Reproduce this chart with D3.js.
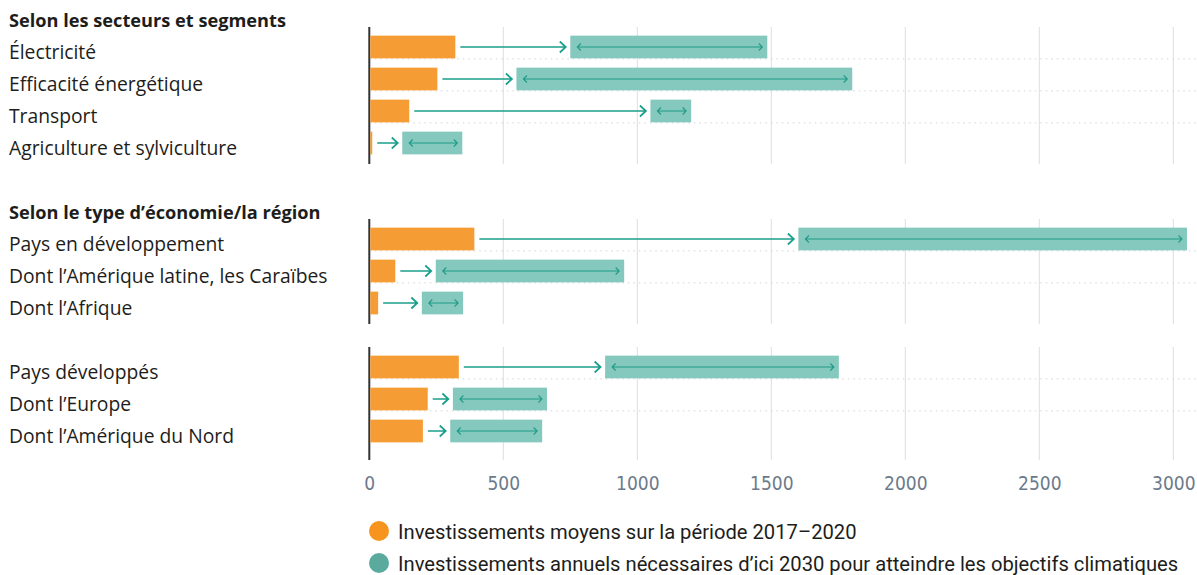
<!DOCTYPE html>
<html>
<head>
<meta charset="utf-8">
<script src="https://cdn.jsdelivr.net/npm/d3@7"></script>
<style>
  body { margin: 0; background: #fff; }
  svg { display: block; }
  .label { font-family: "Open Sans", "Noto Sans", sans-serif; font-size: 19.3px; fill: #1d1d1b; }
  .title { font-weight: 700; font-size: 18.2px; }
  .tick text { font-family: "DejaVu Sans Condensed", "DejaVu Sans", sans-serif; font-stretch: condensed; font-size: 19px; fill: #6c7a8b; }
  .legend { font-family: Roboto, "Noto Sans", sans-serif; font-size: 20.2px; fill: #1d1d1b; }
</style>
</head>
<body>
<svg id="chart" width="1197" height="575"></svg>
<script>
// rows, top to bottom
const categories = [
  "Électricité", "Efficacité énergétique", "Transport", "Agriculture et sylviculture",
  "Pays en développement", "Dont l’Amérique latine, les Caraïbes", "Dont l’Afrique",
  "Pays développés", "Dont l’Europe", "Dont l’Amérique du Nord"
];
const groupOf = [0, 0, 0, 0, 1, 1, 1, 2, 2, 2];
const groupTitles = ["Selon les secteurs et segments", "Selon le type d’économie/la région", ""];

// investissements moyens 2017-2020
const current = [321, 254, 149, 11, 392, 97, 33, 334, 218, 200];
// besoins annuels d'ici 2030 (fourchette basse / haute)
const needLow = [750, 549, 1049, 123, 1601, 248, 196, 880, 312, 302];
const needHigh = [1485, 1802, 1201, 347, 3051, 951, 350, 1752, 663, 645];

const ticks = [0, 500, 1000, 1500, 2000, 2500, 3000];
const legendLabels = [
  "Investissements moyens sur la période 2017–2020",
  "Investissements annuels nécessaires d’ici 2030 pour atteindre les objectifs climatiques"
];

const orange = "#f69c34", teal = "#84c8be", arrowCol = "#1b9e8b";

const svg = d3.select("#chart");

// build the row slots: title slot per group, one blank spacer before titled groups (except first)
const slots = [];
groupTitles.forEach((t, g) => {
  if (g > 0 && t) slots.push("spacer-" + g);
  slots.push("title-" + g);
  categories.forEach((c, i) => { if (groupOf[i] === g) slots.push("row-" + i); });
});

const y = d3.scaleBand().domain(slots).range([-1, slots.length * 32 - 1]).paddingInner(0.29).paddingOuter(0.145);
const x = d3.scaleLinear().domain([0, 3000]).range([369.3, 1173.3]);
const step = y.step();
const bandTop = key => y(key) - (step - y.bandwidth()) / 2;
const rowMid = i => y("row-" + i) + y.bandwidth() / 2;

// per-group frame: gridlines + axis line
groupTitles.forEach((t, g) => {
  const rows = d3.range(categories.length).filter(i => groupOf[i] === g);
  const top = bandTop("row-" + rows[0]) - 4;
  const bottom = bandTop("row-" + rows[rows.length - 1]) + step + (g === groupTitles.length - 1 ? 13 : 5);
  svg.append("g").selectAll("line").data(ticks.slice(1)).join("line")
    .attr("x1", d => x(d)).attr("x2", d => x(d))
    .attr("y1", top).attr("y2", bottom)
    .attr("stroke", "#dedede").attr("stroke-width", 1);
  // dotted separators under each row but the last
  svg.append("g").selectAll("line").data(rows.slice(0, -1)).join("line")
    .attr("x1", x(0)).attr("x2", 1197)
    .attr("y1", i => y("row-" + i) + y.bandwidth() + 0.5)
    .attr("y2", i => y("row-" + i) + y.bandwidth() + 0.5)
    .attr("stroke", "#dcdcdc").attr("stroke-width", 1.2).attr("stroke-dasharray", "1.5 4");
  svg.append("line")
    .attr("x1", x(0)).attr("x2", x(0)).attr("y1", top).attr("y2", bottom)
    .attr("stroke", "#333").attr("stroke-width", 2);
  if (t) {
    svg.append("text").attr("class", "label title")
      .attr("x", 9).attr("y", y("title-" + g) + y.bandwidth() / 2 + 12)
      .text(t);
  }
});

// category labels
svg.append("g").selectAll("text").data(categories).join("text")
  .attr("class", "label")
  .attr("x", 9).attr("y", (d, i) => rowMid(i) + 12)
  .text(d => d);

const idx = d3.range(categories.length);

// current investment bars
svg.append("g").selectAll("rect").data(idx).join("rect")
  .attr("x", x(0) + 1).attr("y", i => y("row-" + i))
  .attr("width", i => x(current[i]) - x(0) - 1).attr("height", y.bandwidth())
  .attr("fill", orange);

// needed range bars
svg.append("g").selectAll("rect").data(idx).join("rect")
  .attr("x", i => x(needLow[i])).attr("y", i => y("row-" + i))
  .attr("width", i => x(needHigh[i]) - x(needLow[i])).attr("height", y.bandwidth())
  .attr("fill", teal);

// arrow from current to needed
svg.append("g").selectAll("path").data(idx).join("path")
  .attr("d", i => {
    const x1 = x(current[i]) + 5, x2 = x(needLow[i]) - 4.5, m = rowMid(i);
    return `M${x1},${m}H${x2}M${x2 - 6},${m - 5.5}L${x2},${m}L${x2 - 6},${m + 5.5}`;
  })
  .attr("fill", "none").attr("stroke", arrowCol).attr("stroke-width", 1.7);

// double arrow inside range bars
svg.append("g").selectAll("path").data(idx).join("path")
  .attr("d", i => {
    const a = x(needLow[i]) + 7, b = x(needHigh[i]) - 5, m = rowMid(i);
    return `M${a},${m}H${b}M${a + 3.5},${m - 3.5}L${a},${m}L${a + 3.5},${m + 3.5}` +
      `M${b - 3.5},${m - 3.5}L${b},${m}L${b - 3.5},${m + 3.5}`;
  })
  .attr("fill", "none").attr("stroke", "#1f9a88").attr("stroke-width", 1.1);

// x axis labels
svg.append("g")
  .attr("transform", "translate(0,460)")
  .call(d3.axisBottom(x).tickValues(ticks).tickFormat(d3.format("d")).tickSize(0).tickPadding(17))
  .call(g => g.select(".domain").remove());

// legend
const legendColors = ["#f7941d", "#5aab9e"];
const lg = svg.append("g").selectAll("g").data(legendLabels).join("g")
  .attr("transform", (d, i) => `translate(379,${531 + i * 32})`);
lg.append("circle").attr("r", 10).attr("fill", (d, i) => legendColors[i]);
lg.append("text").attr("class", "legend").attr("x", 19).attr("y", 8).text(d => d);
</script>
</body>
</html>
